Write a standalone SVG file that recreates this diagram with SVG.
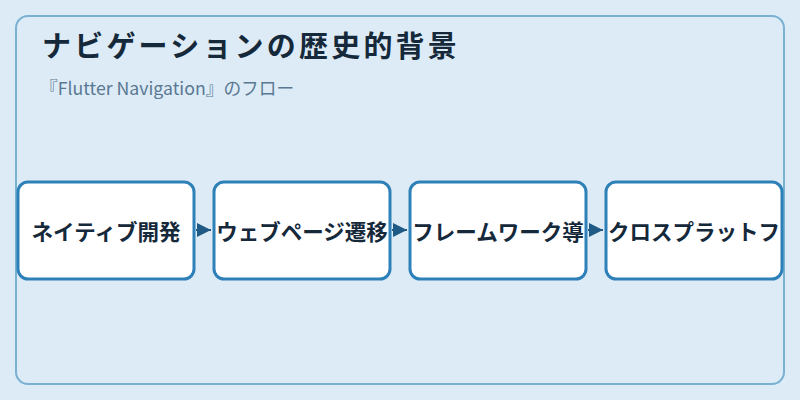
<svg xmlns="http://www.w3.org/2000/svg" width="800" height="400" viewBox="0 0 800 400">
<defs>
<style>
.frame{fill:#dcebf6;stroke:#79b1d3;stroke-width:2}
.node rect{fill:#ffffff;stroke:#2e80b8;stroke-width:3}
.node text{font-family:"Noto Sans CJK JP","Noto Sans",sans-serif;font-size:21.5px;font-weight:bold;fill:#15293b;text-anchor:middle;dominant-baseline:central}
.title{font-family:"Noto Sans CJK JP","Noto Sans",sans-serif;font-size:29px;font-weight:bold;fill:#15293b;letter-spacing:3.2px}
.sub{font-family:"Noto Sans CJK JP","Noto Sans",sans-serif;font-size:17.7px;fill:#5a7892}
.conn line{stroke:#1f5a85;stroke-width:2}
</style>
<marker id="arr" markerUnits="userSpaceOnUse" markerWidth="14" markerHeight="14" refX="14" refY="7" orient="auto">
<path d="M0,0 L14,7 L0,14 z" fill="#1f5a85"/>
</marker>
</defs>
<rect width="800" height="400" fill="#dcebf6"/>
<rect class="frame" x="16" y="16" width="768" height="368" rx="12"/>
<text class="title" x="42" y="57">ナビゲーションの歴史的背景</text>
<text class="sub" x="40" y="95">『Flutter Navigation』のフロー</text>
<g id="connectors" class="conn">
<line x1="196" y1="230" x2="211" y2="230" marker-end="url(#arr)"/>
<line x1="392" y1="230" x2="407" y2="230" marker-end="url(#arr)"/>
<line x1="588" y1="230" x2="603" y2="230" marker-end="url(#arr)"/>
</g>
<g id="node1" class="node">
<rect x="18" y="182" width="176" height="97" rx="10"/>
<text x="106" y="230">ネイティブ開発</text>
</g>
<g id="node2" class="node">
<rect x="214" y="182" width="176" height="97" rx="10"/>
<text x="302" y="230">ウェブページ遷移</text>
</g>
<g id="node3" class="node">
<rect x="410" y="182" width="176" height="97" rx="10"/>
<text x="498" y="230">フレームワーク導</text>
</g>
<g id="node4" class="node">
<rect x="606" y="182" width="176" height="97" rx="10"/>
<text x="694" y="230">クロスプラットフ</text>
</g>
</svg>
